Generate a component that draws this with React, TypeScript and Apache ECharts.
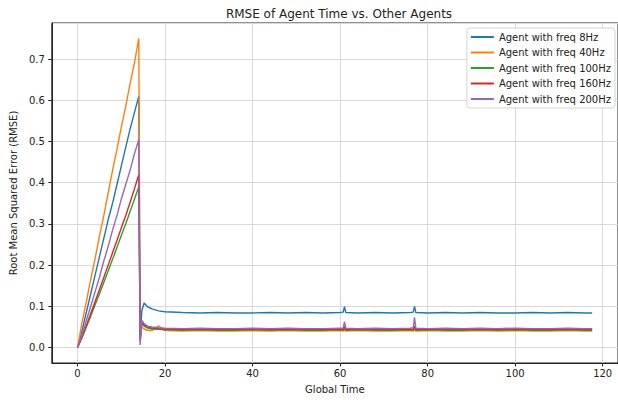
import React, { useEffect, useRef } from "react";
import * as echarts from "echarts";

const seriesNames = [
  "Agent with freq 8Hz",
  "Agent with freq 40Hz",
  "Agent with freq 100Hz",
  "Agent with freq 160Hz",
  "Agent with freq 200Hz",
];

const colors = ["#1f77b4", "#ff7f0e", "#2ca02c", "#d62728", "#9467bd"];

const times = [
  0, 1, 2, 3, 4, 5, 6, 7, 8, 9, 10, 11, 12, 13, 14,
  14.3, 14.7, 15.2, 16, 17, 18.5,
  20, 24, 28, 32, 36, 40, 44, 48, 52, 56, 60, 60.7, 61, 61.3, 64, 68, 72, 76, 76.7, 77, 77.3,
  80, 84, 88, 92, 96, 100, 104, 108, 112, 116, 117.6,
];

const rmse8Hz = [
  0, 0.04, 0.085, 0.13, 0.175, 0.22, 0.265, 0.31, 0.35, 0.395, 0.44, 0.485, 0.53, 0.57, 0.61,
  0.03, 0.09, 0.108, 0.099, 0.094, 0.089,
  0.087, 0.085, 0.084, 0.085, 0.084, 0.084, 0.085, 0.084, 0.085, 0.084, 0.085, 0.086, 0.099, 0.085, 0.084, 0.085, 0.084, 0.085, 0.086, 0.1, 0.085,
  0.084, 0.085, 0.084, 0.085, 0.084, 0.084, 0.085, 0.084, 0.085, 0.084, 0.084,
];

const rmse40Hz = [
  0, 0.06, 0.11, 0.165, 0.215, 0.27, 0.32, 0.375, 0.43, 0.48, 0.535, 0.585, 0.64, 0.69, 0.75,
  0.035, 0.05, 0.045, 0.042, 0.041, 0.053,
  0.041, 0.04, 0.041, 0.04, 0.04, 0.041, 0.04, 0.041, 0.04, 0.04, 0.041, 0.04, 0.042, 0.04, 0.041, 0.04, 0.04, 0.041, 0.04, 0.042, 0.04,
  0.041, 0.04, 0.04, 0.041, 0.04, 0.041, 0.04, 0.04, 0.041, 0.04, 0.04,
];

const rmse100Hz = [
  0, 0.023, 0.049, 0.076, 0.103, 0.13, 0.158, 0.186, 0.214, 0.243, 0.272, 0.3, 0.33, 0.36, 0.39,
  0.02, 0.06, 0.052, 0.047, 0.045, 0.044,
  0.043, 0.042, 0.043, 0.042, 0.042, 0.043, 0.042, 0.043, 0.042, 0.042, 0.043, 0.042, 0.046, 0.042, 0.043, 0.042, 0.042, 0.043, 0.042, 0.047, 0.042,
  0.043, 0.042, 0.042, 0.043, 0.042, 0.043, 0.042, 0.042, 0.043, 0.042, 0.042,
];

const rmse160Hz = [
  0, 0.025, 0.053, 0.082, 0.111, 0.14, 0.17, 0.2, 0.23, 0.26, 0.29, 0.32, 0.352, 0.385, 0.42,
  0.015, 0.063, 0.055, 0.05, 0.047, 0.046,
  0.045, 0.044, 0.045, 0.044, 0.044, 0.045, 0.044, 0.045, 0.044, 0.044, 0.045, 0.044, 0.05, 0.044, 0.045, 0.044, 0.044, 0.045, 0.044, 0.052, 0.044,
  0.045, 0.044, 0.044, 0.045, 0.044, 0.045, 0.044, 0.044, 0.045, 0.044, 0.044,
];

const rmse200Hz = [
  0, 0.03, 0.065, 0.1, 0.135, 0.17, 0.21, 0.245, 0.285, 0.32, 0.36, 0.395, 0.43, 0.47, 0.505,
  0.006, 0.066, 0.058, 0.052, 0.05, 0.048,
  0.047, 0.046, 0.047, 0.046, 0.046, 0.047, 0.046, 0.047, 0.046, 0.046, 0.047, 0.047, 0.063, 0.047, 0.046, 0.047, 0.046, 0.047, 0.048, 0.073, 0.047,
  0.046, 0.047, 0.046, 0.047, 0.046, 0.047, 0.046, 0.046, 0.047, 0.046, 0.046,
];

const allValues = [rmse8Hz, rmse40Hz, rmse100Hz, rmse160Hz, rmse200Hz];

const FONT = "DejaVu Sans";
const TEXT = "#222";

export default function App() {
  const ref = useRef<HTMLDivElement>(null);

  useEffect(() => {
    if (!ref.current) return;
    const chart = echarts.init(ref.current, undefined, { renderer: "svg" });
    const option = {
      animation: false,
      backgroundColor: "#ffffff",
      title: {
        text: "RMSE of Agent Time vs. Other Agents",
        left: 334,
        textAlign: "center",
        top: 3,
        textStyle: { fontFamily: FONT, fontSize: 12, fontWeight: "normal", color: TEXT },
      },
      legend: {
        orient: "vertical",
        right: 3,
        top: 28,
        icon: "rect",
        itemWidth: 23,
        itemHeight: 2,
        itemGap: 3.5,
        padding: [3, 4, 3, 4],
        backgroundColor: "rgba(255,255,255,0.85)",
        borderColor: "#d4d4d4",
        borderWidth: 1,
        borderRadius: 3,
        textStyle: { fontFamily: FONT, fontSize: 10, color: TEXT, lineHeight: 12 },
        data: seriesNames,
      },
      grid: {
        left: 48,
        top: 23,
        width: 574,
        height: 340,
        show: true,
        borderColor: "#222",
        borderWidth: 1,
        backgroundColor: "transparent",
      },
      xAxis: {
        type: "value",
        min: -5.88,
        max: 123.5,
        splitNumber: 6,
        name: "Global Time",
        nameLocation: "middle",
        nameGap: 21,
        nameTextStyle: { fontFamily: FONT, fontSize: 10, color: TEXT },
        axisLine: { show: true, onZero: false, lineStyle: { color: "#222", width: 1 } },
        axisTick: { show: true, length: 3.5, lineStyle: { color: "#222" } },
        axisLabel: {
          fontFamily: FONT,
          fontSize: 10,
          color: TEXT,
          margin: 5,
          showMinLabel: false,
          showMaxLabel: false,
          formatter: (v: number) => String(Math.round(v)),
        },
        splitLine: { show: true, lineStyle: { color: "#d9d9d9", width: 1 } },
      },
      yAxis: {
        type: "value",
        min: -0.0375,
        max: 0.7875,
        splitNumber: 8,
        name: "Root Mean Squared Error (RMSE)",
        nameLocation: "middle",
        nameGap: 29,
        nameTextStyle: { fontFamily: FONT, fontSize: 10, color: TEXT },
        axisLine: { show: true, onZero: false, lineStyle: { color: "#222", width: 1 } },
        axisTick: { show: true, length: 3.5, lineStyle: { color: "#222" } },
        axisLabel: {
          fontFamily: FONT,
          fontSize: 10,
          color: TEXT,
          margin: 7,
          showMinLabel: false,
          showMaxLabel: false,
          formatter: (v: number) => v.toFixed(1),
        },
        splitLine: { show: true, lineStyle: { color: "#d9d9d9", width: 1 } },
      },
      series: seriesNames.map((name, i) => ({
        name,
        type: "line",
        data: times.map((t, j) => [t, allValues[i][j]]),
        showSymbol: false,
        symbol: "none",
        color: colors[i],
        lineStyle: { color: colors[i], width: 1.4 },
        emphasis: { disabled: true },
        silent: true,
        z: 2 + i,
      })),
    };
    chart.setOption(option as any);
    return () => chart.dispose();
  }, []);

  return (
    <div
      ref={ref}
      style={{ position: "fixed", left: 0, top: 0, width: 618, height: 400 }}
    />
  );
}
